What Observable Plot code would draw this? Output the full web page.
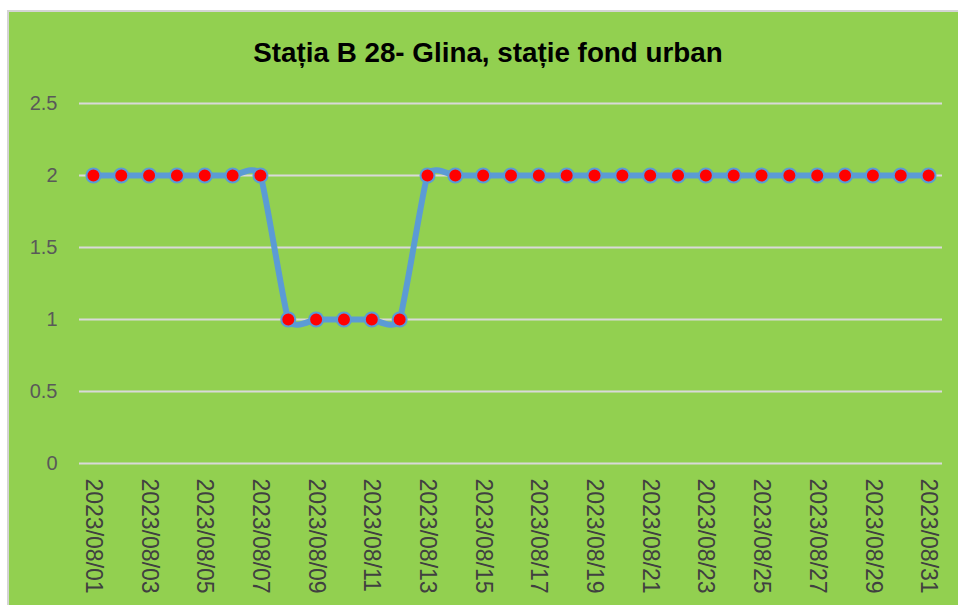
<!DOCTYPE html>
<html>
<head>
<meta charset="utf-8">
<script src="https://cdn.jsdelivr.net/npm/d3@7"></script>
<script src="https://cdn.jsdelivr.net/npm/@observablehq/plot@0.6"></script>
<style>
  html, body { margin: 0; padding: 0; background: #ffffff; width: 958px; height: 605px; overflow: hidden; }
  #panel { position: absolute; left: 7px; top: 10px; width: 960px; height: 600px;
           background: #92D050; border-left: 2px solid #d4d4d4; border-top: 2px solid #d4d4d4; }
  #title { position: absolute; left: 9px; top: 37px; width: 958px; text-align: center;
           font-family: "Liberation Sans", Arial, sans-serif; font-weight: bold; font-size: 27.8px; color: #000; }
  #chart { position: absolute; left: 0; top: 80px; }
</style>
</head>
<body>
<div id="panel"></div>
<div id="title">Stația B 28- Glina, stație fond urban</div>
<div id="chart"></div>
<script>
const dates = [
  "2023/08/01","2023/08/02","2023/08/03","2023/08/04","2023/08/05","2023/08/06","2023/08/07",
  "2023/08/08","2023/08/09","2023/08/10","2023/08/11","2023/08/12","2023/08/13","2023/08/14",
  "2023/08/15","2023/08/16","2023/08/17","2023/08/18","2023/08/19","2023/08/20","2023/08/21",
  "2023/08/22","2023/08/23","2023/08/24","2023/08/25","2023/08/26","2023/08/27","2023/08/28",
  "2023/08/29","2023/08/30","2023/08/31"
];
const values = [
  2, 2, 2, 2, 2, 2, 2,
  1, 1, 1, 1, 1,
  2, 2, 2, 2, 2, 2, 2, 2, 2, 2, 2, 2, 2, 2, 2, 2, 2, 2, 2
];
const yTicks = [0, 0.5, 1, 1.5, 2, 2.5];
const xTickLabels = dates.filter((d, i) => i % 2 === 0);

const data = dates.map((d, i) => ({date: d, value: values[i]}));

const chart = Plot.plot({
  width: 958,
  height: 525,
  marginLeft: 79,
  marginRight: 16,
  marginTop: 23,
  marginBottom: 142,
  style: { background: "transparent", fontFamily: "Liberation Sans, Arial, sans-serif" },
  x: { type: "point", domain: dates, padding: 0.5, round: false },
  y: { domain: [0, 2.5] },
  marks: [
    Plot.ruleY(yTicks, { stroke: "#d9d9d9", strokeWidth: 2 }),
    Plot.axisY({ ticks: yTicks, tickSize: 0, tickPadding: 22, fontSize: 20, fill: "#595959", label: null,
                 tickFormat: d => String(d) }),
    Plot.axisX({ ticks: xTickLabels, tickSize: 0, tickRotate: 90, tickPadding: 15, fontSize: 23,
                 fill: "#404040", label: null }),
    Plot.line(data, { x: "date", y: "value", curve: "cardinal", tension: 0.5, stroke: "#5B9BD5", strokeWidth: 6 }),
    Plot.dot(data, { x: "date", y: "value", r: 7, fill: "#FF0000", stroke: "#5B9BD5", strokeWidth: 2 })
  ]
});
document.getElementById("chart").appendChild(chart);
</script>
</body>
</html>
